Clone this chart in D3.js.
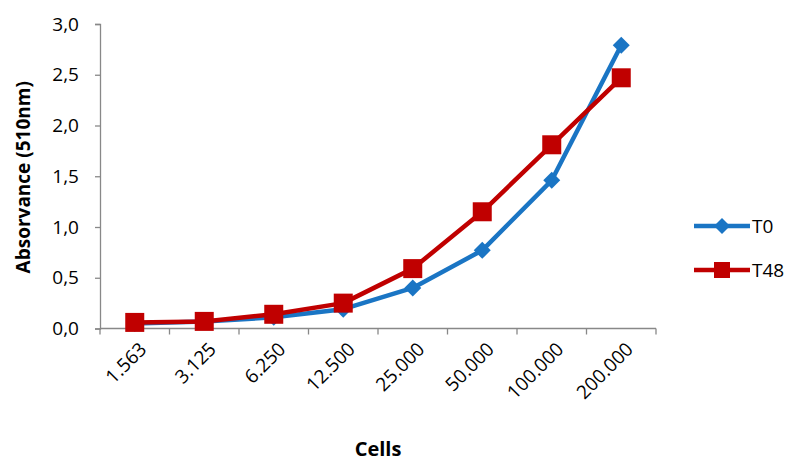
<!DOCTYPE html>
<html>
<head>
<meta charset="utf-8">
<script src="https://cdn.jsdelivr.net/npm/d3@7"></script>
<style>
  body { margin: 0; background: #fff; }
  svg text { font-family: "Open Sans", "Liberation Sans", sans-serif; fill: #000; }
</style>
</head>
<body>
<svg id="chart" width="792" height="464"></svg>
<script>
// Cell counts on the x axis
const categories = ["1.563", "3.125", "6.250", "12.500", "25.000", "50.000", "100.000", "200.000"];
// Absorbance readings at 510 nm
const t0Values  = [0.05, 0.07, 0.11, 0.19, 0.40, 0.77, 1.46, 2.79];
const t48Values = [0.06, 0.07, 0.14, 0.25, 0.59, 1.15, 1.81, 2.47];
const seriesNames = ["T0", "T48"];
const yTicks = [0, 0.5, 1.0, 1.5, 2.0, 2.5, 3.0];

const series = [
  { name: seriesNames[0], values: t0Values,  color: "#1A75C4", marker: "diamond" },
  { name: seriesNames[1], values: t48Values, color: "#C00000", marker: "square" }
];

const svg = d3.select("#chart");
const plotLeft = 100, plotRight = 656, plotTop = 24, plotBottom = 328.5;

const x = d3.scaleBand().domain(categories).range([plotLeft, plotRight]);
const y = d3.scaleLinear().domain([0, 3]).range([plotBottom, plotTop]);
const axisColor = "#888";
const fmt = d => d.toFixed(1).replace(".", ",");

// Y axis
const yAxis = svg.append("g")
  .attr("transform", `translate(${plotLeft},0)`)
  .call(d3.axisLeft(y).tickValues(yTicks).tickFormat(fmt).tickSize(5).tickPadding(16));
yAxis.select(".domain").attr("stroke", axisColor).attr("stroke-width", 1.3);
yAxis.selectAll(".tick line").attr("stroke", axisColor).attr("stroke-width", 1.3);
yAxis.selectAll("text").attr("font-size", 19).attr("fill", "#000")
  .style("font-family", "'Open Sans', 'Liberation Sans', sans-serif");

// X axis: ticks sit on the band boundaries
const xg = svg.append("g").attr("transform", `translate(0,${plotBottom})`);
xg.append("line").attr("x1", plotLeft).attr("x2", plotRight).attr("stroke", axisColor).attr("stroke-width", 1.3);
const bounds = categories.map(c => x(c)).concat([plotRight]);
xg.selectAll("line.tk").data(bounds).join("line")
  .attr("class", "tk")
  .attr("x1", d => d).attr("x2", d => d)
  .attr("y1", 0).attr("y2", 6)
  .attr("stroke", axisColor).attr("stroke-width", 1.3);
xg.selectAll("text.lbl").data(categories).join("text")
  .attr("class", "lbl")
  .attr("font-size", 19)
  .attr("text-anchor", "end")
  .attr("transform", d => `translate(${x(d) + x.bandwidth() / 2 + 13},${22}) rotate(-45)`)
  .text(d => d);

// Axis titles
svg.append("text")
  .attr("transform", `translate(30,${(plotTop + plotBottom) / 2 + 1}) rotate(-90)`)
  .attr("text-anchor", "middle")
  .attr("font-size", 19).attr("font-weight", "bold")
  .text("Absorvance (510nm)");
svg.append("text")
  .attr("x", (plotLeft + plotRight) / 2).attr("y", 456)
  .attr("text-anchor", "middle")
  .attr("font-size", 20).attr("font-weight", "bold")
  .text("Cells");

const cx = c => x(c) + x.bandwidth() / 2;
const line = d3.line().x((d, i) => cx(categories[i])).y(d => y(d));

function drawMarker(g, type, color, r) {
  if (type === "diamond") {
    g.append("path").attr("d", `M0,${-r}L${r},0L0,${r}L${-r},0Z`).attr("fill", color);
  } else {
    g.append("rect").attr("x", -r).attr("y", -r).attr("width", 2 * r).attr("height", 2 * r).attr("fill", color);
  }
}

// Lines first, then markers on top
series.forEach(s => {
  svg.append("path").datum(s.values)
    .attr("d", line)
    .attr("fill", "none")
    .attr("stroke", s.color)
    .attr("stroke-width", 4.5)
    .attr("stroke-linejoin", "round");
});
series.forEach(s => {
  s.values.forEach((v, i) => {
    const g = svg.append("g").attr("transform", `translate(${cx(categories[i])},${y(v)})`);
    drawMarker(g, s.marker, s.color, s.marker === "diamond" ? 8.5 : 9.5);
  });
});

// Legend
const legend = svg.append("g");
series.forEach((s, i) => {
  const ly = 226 + i * 44;
  const g = legend.append("g").attr("transform", `translate(0,${ly})`);
  g.append("line").attr("x1", 694).attr("x2", 750).attr("y1", 0).attr("y2", 0)
    .attr("stroke", s.color).attr("stroke-width", 4.5);
  const m = g.append("g").attr("transform", "translate(722,0)");
  drawMarker(m, s.marker, s.color, 8);
  g.append("text").attr("x", 752).attr("y", 7).attr("font-size", 19).text(s.name);
});
</script>
</body>
</html>
